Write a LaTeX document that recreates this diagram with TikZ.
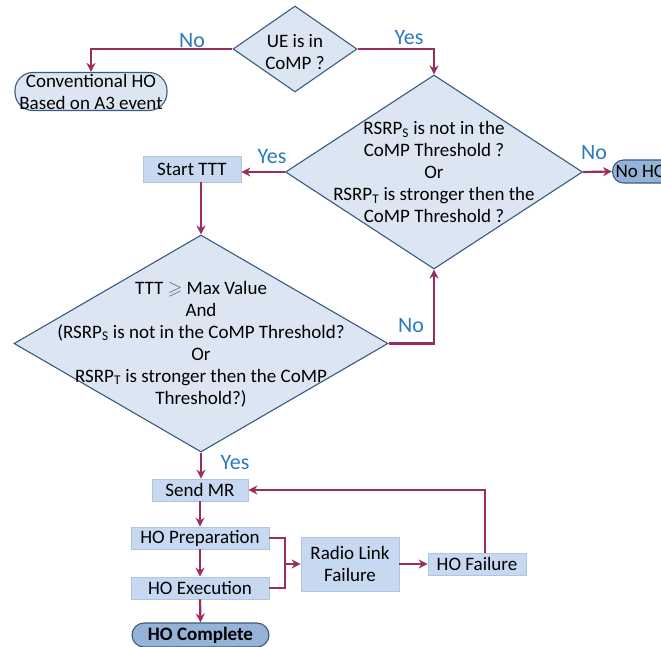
\documentclass[tikz,border=0pt]{standalone}
\usepackage{fontspec}
\setmainfont{Carlito}
\usepackage{amssymb}
\usetikzlibrary{shapes.geometric,arrows.meta}
\definecolor{arr}{HTML}{9B2C5E}
\definecolor{dfill}{HTML}{DCE6F2}
\definecolor{dline}{HTML}{3A5A80}
\definecolor{bfill}{HTML}{C6D9F0}
\definecolor{bline}{HTML}{AFC6E2}
\definecolor{tfill}{HTML}{95B3D7}
\definecolor{lab}{HTML}{2A7AC0}
\begin{document}
\begin{tikzpicture}[x=1pt,y=-1pt,
  every node/.style={font=\fontsize{19}{22}\selectfont, text=black},
  dec/.style={diamond, draw=dline, fill=dfill, line width=1.1pt, inner sep=0pt},
  txt/.style={align=center, inner sep=0pt},
  box/.style={rectangle, fill=bfill, draw=bline, line width=0.8pt, inner sep=0pt, align=center},
  term/.style={rectangle, draw=dline, line width=1.1pt, inner sep=0pt, align=center},
  lab/.style={text=lab, font=\fontsize{22}{24}\selectfont, inner sep=0pt},
  conn/.style={draw=arr, line width=2.2pt, -{Stealth[length=9pt,width=9pt]}},
  link/.style={draw=arr, line width=2.2pt}]
\useasboundingbox (0,0) rectangle (661,647);
\clip (0,0) rectangle (661,647);
% decisions
\node[dec, minimum width=124pt, minimum height=86pt] (d1) at (295,49) {};
\node[txt] (d1t) at (295,52) {UE is in\\CoMP ?};
\node[dec, minimum width=297pt, minimum height=194pt] (d2) at (434,172) {};
\node[txt] (d2t) at (434,172) {RSRP\textsubscript{S} is not in the\\CoMP Threshold ?\\Or\\RSRP\textsubscript{T} is stronger then the\\CoMP Threshold ?};
\node[dec, minimum width=374pt, minimum height=217pt] (d3) at (201,343.5) {};
\node[txt] (d3t) at (201,344) {TTT {\color{black!60}$\geqslant$} Max Value\\And\\(RSRP\textsubscript{S} is not in the CoMP Threshold?\\Or\\RSRP\textsubscript{T} is stronger then the CoMP\\Threshold?)};
% terminals
\node[term, fill=dfill, rounded corners=18pt, minimum width=152pt, minimum height=38pt] (conv) at (91,91.5) {Conventional HO\\Based on A3 event};
\node[term, fill=tfill, rounded corners=11pt, minimum width=58pt, minimum height=23pt, anchor=west] (noho) at (612,171.5) {\hspace*{3pt}No HO\hspace*{11pt}};
\node[term, fill=tfill, rounded corners=12pt, minimum width=137pt, minimum height=24pt] (comp) at (200.5,635) {\bfseries HO Complete};
% process boxes
\node[box, minimum width=98pt, minimum height=26pt] (tt) at (192,169) {Start TTT};
\node[box, minimum width=96pt, minimum height=22pt] (mr) at (200,490) {Send MR};
\node[box, minimum width=138pt, minimum height=22pt] (prep) at (200,538) {HO Preparation};
\node[box, minimum width=138pt, minimum height=22pt] (exec) at (200,588) {HO Execution};
\node[box, minimum width=98pt, minimum height=54pt] (rlf) at (350,564) {Radio Link\\Failure};
\node[box, minimum width=98pt, minimum height=22pt] (hof) at (477,564) {HO Failure};
% connectors
\draw[conn] (d1.west) -| (conv.north);
\draw[conn] (d1.east) -| (d2.north);
\draw[conn] (d2.east) -- (noho.west);
\draw[conn] (d2.west) -- (d2.west -| tt.east);
\draw[conn] (tt.south -| d3.north) -- (d3.north);
\draw[conn] (d3.east) -| (d2.south);
\draw[conn] (d3.south) -- (d3.south |- mr.north);
\draw[conn] (mr.south) -- (prep.north);
\draw[conn] (prep.south) -- (exec.north);
\draw[conn] (exec.south) -- (comp.north);
\coordinate (j) at (285,564);
\draw[link] (prep.east) -| (j);
\draw[link] (exec.east) -| (j);
\draw[conn] (j) -- (rlf.west);
\draw[conn] (rlf.east) -- (hof.west);
\coordinate (hu) at (485,490);
\draw[conn] (hof.north -| hu) -- (hu) -- (mr.east);
% labels
\node[lab] (l1) at (192,41) {No};
\node[lab] (l2) at (409,38) {Yes};
\node[lab] (l3) at (594,153) {No};
\node[lab] (l4) at (272,157) {Yes};
\node[lab] (l5) at (411,326) {No};
\node[lab] (l6) at (235,463) {Yes};
\end{tikzpicture}
\end{document}
